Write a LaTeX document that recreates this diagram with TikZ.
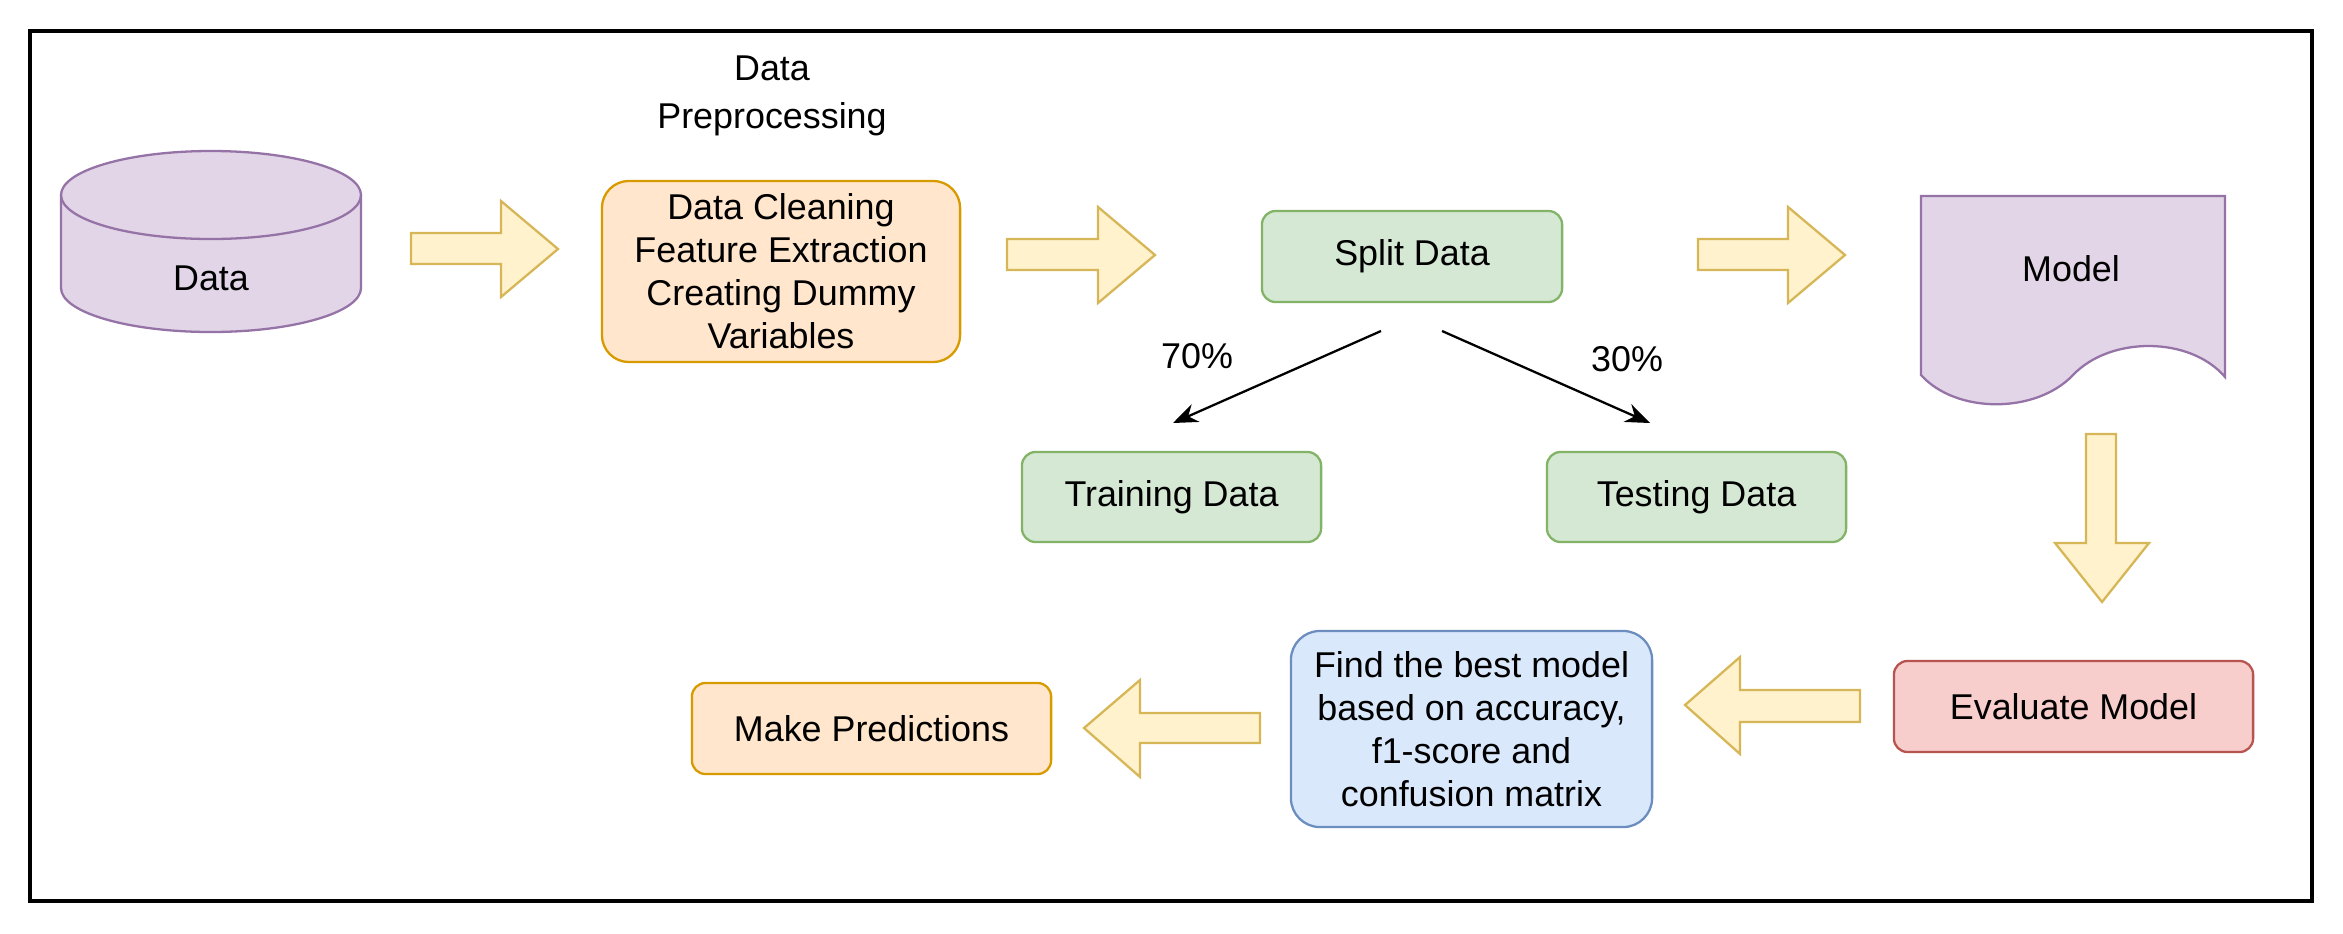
\documentclass[tikz,border=0pt]{standalone}
\usepackage{fontspec}
\setmainfont{Liberation Sans}
\usetikzlibrary{arrows.meta}
\definecolor{purpfill}{HTML}{E1D5E7}
\definecolor{purpline}{HTML}{9673A6}
\definecolor{orfill}{HTML}{FFE6CC}
\definecolor{orline}{HTML}{D79B00}
\definecolor{grfill}{HTML}{D5E8D4}
\definecolor{grline}{HTML}{82B366}
\definecolor{yelfill}{HTML}{FFF2CC}
\definecolor{yelline}{HTML}{D6B656}
\definecolor{blfill}{HTML}{DAE8FC}
\definecolor{blline}{HTML}{6C8EBF}
\definecolor{redfill}{HTML}{F8CECC}
\definecolor{redline}{HTML}{B85450}

\begin{document}
\begin{tikzpicture}[x=0.01cm,y=0.01cm,>={Stealth[length=7pt,width=5.5pt]},
font=\fontsize{10.2pt}{12.2pt}\selectfont,
box/.style = {draw, line width=0.65pt, rounded corners=0.136cm, minimum width=3cm, minimum height=0.91cm, inner sep=0pt, align=center},
greenbox/.style = {box, fill=grfill, draw=grline},
orangebox/.style = {box, fill=orfill, draw=orline},
blockarrow/.style = {draw=yelline, fill=yelfill, line width=0.65pt},
purpleshape/.style = {draw=purpline, fill=purpfill, line width=0.65pt},]
\useasboundingbox (0,0) rectangle (2343,-933);
\draw[line width=0.9pt] (30,-31) rectangle (2312,-901);
% data store
\draw[purpleshape] (61,-195) -- (61,-288) arc[start angle=180,end angle=360,x radius=150,y radius=44] -- (361,-195) arc[start angle=0,end angle=180,x radius=150,y radius=44] -- cycle;
\draw[draw=purpline, line width=0.65pt] (61,-195) arc[start angle=180,end angle=360,x radius=150,y radius=44];
\node (data) at (211,-278) {Data};
% preprocessing
\node (preplabel) at (772,-96)[align=center] {Data\\[1.5pt]Preprocessing};
\node (prep) at (781,-271.5)[orangebox,minimum width=3.58cm,minimum height=1.81cm,rounded corners=0.27cm] {Data Cleaning\\Feature Extraction\\Creating Dummy\\Variables};
\node (split) at (1412,-256.5)[greenbox] {Split Data};
\node (train) at (1171.5,-497)[greenbox,minimum width=2.99cm,minimum height=0.9cm] {Training Data};
\node (test) at (1696.5,-497)[greenbox,minimum width=2.99cm,minimum height=0.9cm] {Testing Data};
% model
\draw[purpleshape] (1921,-196) -- (2225,-196) -- (2225,-377) .. controls (2190,-336) and (2110,-336) .. (2073,-375) .. controls (2036,-414) and (1956,-414) .. (1921,-375) -- cycle;
\node (model) at (2071,-269) {Model};
\node (eval) at (2073.5,-706.5)[box,fill=redfill,draw=redline,minimum width=3.59cm] {Evaluate Model};
\node (best) at (1471.5,-729)[box,fill=blfill,draw=blline,minimum width=3.61cm,minimum height=1.96cm,rounded corners=0.29cm] {Find the best model\\based on accuracy,\\f1-score and\\confusion matrix};
\node (pred) at (871.5,-728.5)[orangebox,minimum width=3.59cm] {Make Predictions};
% block arrows
\draw[blockarrow] (411,-233) -- (501,-233) -- (501,-201) -- (558,-249) -- (501,-297) -- (501,-264) -- (411,-264) -- cycle;
\draw[blockarrow] (1007,-239) -- (1098,-239) -- (1098,-207) -- (1155,-255) -- (1098,-303) -- (1098,-270) -- (1007,-270) -- cycle;
\draw[blockarrow] (1698,-239) -- (1788,-239) -- (1788,-207) -- (1845,-255) -- (1788,-303) -- (1788,-270) -- (1698,-270) -- cycle;
\draw[blockarrow] (2086,-434) -- (2086,-543) -- (2055,-543) -- (2102,-602) -- (2149,-543) -- (2116,-543) -- (2116,-434) -- cycle;
\draw[blockarrow] (1860,-690) -- (1740,-690) -- (1740,-657) -- (1685,-705) -- (1740,-754) -- (1740,-722) -- (1860,-722) -- cycle;
\draw[blockarrow] (1260,-713) -- (1140,-713) -- (1140,-680) -- (1084,-728) -- (1140,-777) -- (1140,-743) -- (1260,-743) -- cycle;
% split
\coordinate (s70) at (1381,-331);
\coordinate (t70) at (1173,-423);
\coordinate (s30) at (1442,-331);
\coordinate (t30) at (1650,-423);
\draw[->,line width=0.65pt] (s70)--(t70);
\draw[->,line width=0.65pt] (s30)--(t30);
\node (p70) at (1197,-356) {70\%};
\node (p30) at (1627,-359) {30\%};
\end{tikzpicture}
\end{document}
